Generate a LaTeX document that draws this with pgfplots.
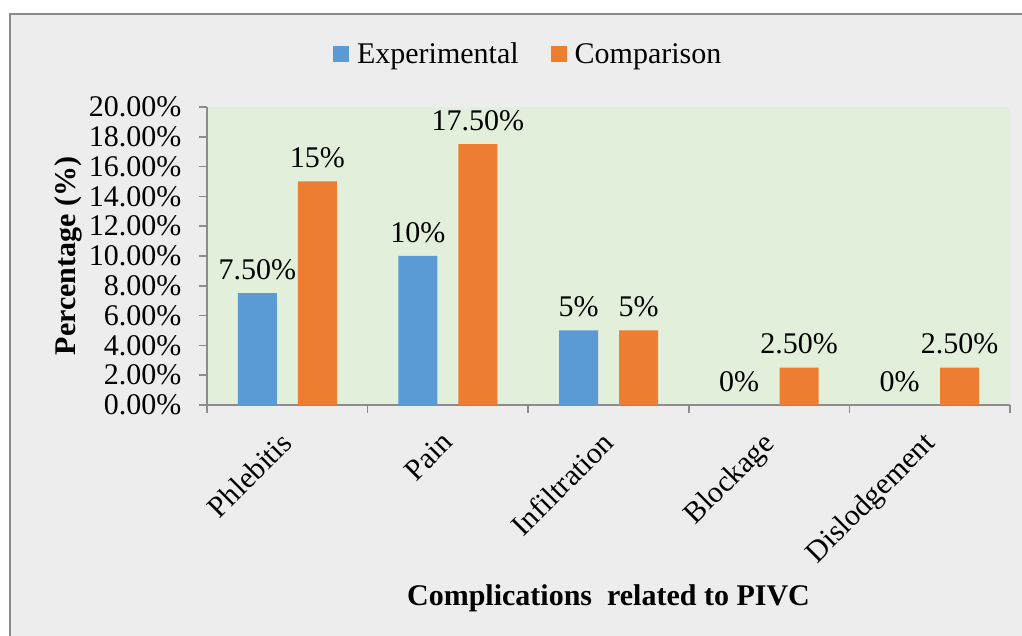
\documentclass[border=0pt]{standalone}
\usepackage{fontspec}
\setmainfont{Liberation Serif}
\usepackage{pgfplots}
\pgfplotsset{compat=1.18}
\definecolor{bexp}{HTML}{5B9BD5}
\definecolor{bcomp}{HTML}{ED7D31}
\definecolor{plotbg}{HTML}{E2EFDA}
\definecolor{chartbg}{HTML}{EDEDED}
\definecolor{axgray}{HTML}{8C8C8C}
\definecolor{framegray}{HTML}{8A8A8A}
\begin{document}
\begin{tikzpicture}[font=\fontsize{30pt}{36pt}\selectfont]
\useasboundingbox (0,0) rectangle (1022pt,636pt);
\fill[white] (0,0) rectangle (1022pt,636pt);
\fill[chartbg] (10pt,0) rectangle (1022pt,622pt);
\draw[framegray, line width=2pt] (10pt,0) -- (10pt,622pt) -- (1022pt,622pt);
\begin{axis}[
  at={(207pt,231pt)}, anchor=south west,
  width=803pt, height=298pt, scale only axis,
  xmin=-0.5, xmax=4.5, ymin=0, ymax=20,
  axis background/.style={fill=plotbg},
  axis x line*=bottom, axis y line*=left,
  axis line style={axgray, line width=1.5pt},
  tick align=outside,
  major tick length=8pt, minor tick length=8pt,
  every tick/.style={axgray, line width=1.5pt},
  xtick={0,1,2,3,4},
  xticklabels={Phlebitis,Pain,Infiltration,Blockage,Dislodgement},
  major x tick style={draw=none},
  minor xtick={-0.5,0.5,1.5,2.5,3.5,4.5},
  ytick={0,2,4,6,8,10,12,14,16,18,20},
  yticklabel={\pgfmathprintnumber[fixed,fixed zerofill,precision=2]{\tick}\%},
  /pgf/number format/assume math mode=true,
  yticklabel style={anchor=east, xshift=-14pt},
  xticklabel style={anchor=north east, inner sep=0pt, xshift=-8pt, yshift=-17pt, rotate=45},
  ybar, bar width=39pt,
  point meta=explicit symbolic,
  nodes near coords,
  every node near coord/.append style={yshift=10pt, text=black},
  xlabel={\bfseries Complications~ related to PIVC},
  xlabel style={at={(axis description cs:0.5,-0.648)}, anchor=center},
  ylabel={\bfseries Percentage (\%)},
  ylabel style={at={(axis description cs:-0.173,0.5)}, anchor=center},
  legend columns=2,
  legend style={at={(axis description cs:0.400,1.178)}, anchor=center, draw=none, fill=none,
    /tikz/every even column/.append style={column sep=30pt}},
  legend image code/.code={\fill[#1,draw=none] (0pt,-8pt) rectangle (16pt,8pt); \path (22pt,0pt);},
]
\addplot[fill=bexp, draw=none, bar shift=-30pt] coordinates {
  (0,7.5) [7.50\%]
  (1,10) [10\%]
  (2,5) [5\%]
  (3,0) [0\%]
  (4,0) [0\%]
};
\addplot[fill=bcomp, draw=none, bar shift=30pt] coordinates {
  (0,15) [15\%]
  (1,17.5) [17.50\%]
  (2,5) [5\%]
  (3,2.5) [2.50\%]
  (4,2.5) [2.50\%]
};
\legend{Experimental, Comparison}
\end{axis}
\end{tikzpicture}
\end{document}
